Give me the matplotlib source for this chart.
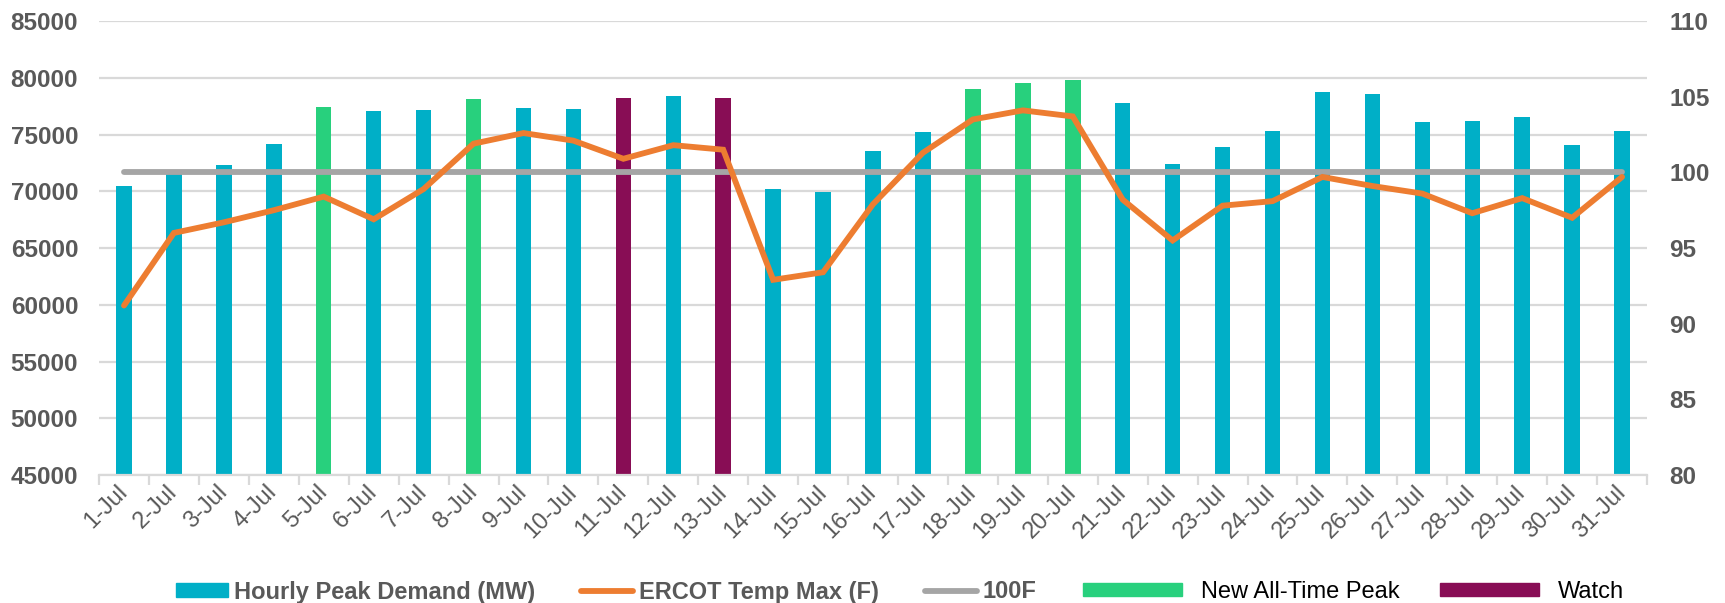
import numpy as np
import matplotlib
matplotlib.use("Agg")
import matplotlib.pyplot as plt
import matplotlib.patches as mpatches
from matplotlib.lines import Line2D

plt.rcParams["font.family"] = ["Liberation Sans", "DejaVu Sans"]

days = [f"{d}-Jul" for d in range(1, 32)]

# hourly peak demand (MW)
demand = [70450, 71600, 72300, 74150, 77450, 77050, 77150, 78150, 77300, 77250,
          78250, 78400, 78250, 70200, 69950, 73550, 75250, 79000, 79550, 79800,
          77750, 72400, 73900, 75300, 78750, 78550, 76150, 76200, 76550, 74050,
          75300]

# ERCOT max temperature (F)
temp_max = [91.2, 96.0, 96.7, 97.5, 98.4, 96.9, 98.9, 101.9, 102.6, 102.1,
            100.9, 101.8, 101.5, 92.9, 93.4, 97.9, 101.3, 103.5, 104.1, 103.7,
            98.2, 95.5, 97.8, 98.1, 99.7, 99.1, 98.6, 97.3, 98.3, 97.0,
            99.7]

ref_temp = [100] * len(days)

# bar category: 0 normal, 1 new all-time peak, 2 watch
status = [0, 0, 0, 0, 1, 0, 0, 1, 0, 0,
          2, 0, 2, 0, 0, 0, 0, 1, 1, 1,
          0, 0, 0, 0, 0, 0, 0, 0, 0, 0,
          0]

TEAL = "#00AFC7"
GREEN = "#28D07D"
PURPLE = "#880D55"
ORANGE = "#ED7D31"
GRAY = "#A5A5A5"
GRID = "#D9D9D9"
TXT = "#595959"

fig = plt.figure(figsize=(17.25, 6.03), dpi=100)
ax = fig.add_axes([0.0574, 0.2123, 0.8974, 0.7527])
ax2 = ax.twinx()

x = np.arange(len(days))
colors = [[TEAL, GREEN, PURPLE][s] for s in status]
ax.bar(x, np.array(demand) - 45000, bottom=45000, width=0.31, color=colors, zorder=2)

ax.set_ylim(45000, 85000)
ax.set_yticks(range(45000, 85001, 5000))
ax.set_xlim(-0.5, len(days) - 0.5)
ax.grid(axis="y", color=GRID, linewidth=1.6, zorder=0)
ax.set_axisbelow(True)
for s in ["top", "left", "right"]:
    ax.spines[s].set_visible(False)
ax.spines["bottom"].set_color(GRID)
ax.spines["bottom"].set_linewidth(1.6)

ax.set_xticks(x)
ax.set_xticklabels(days, rotation=45, ha="right", va="center", rotation_mode="anchor",
                   fontsize=17, color=TXT)
ax.tick_params(axis="x", which="major", length=0, pad=10)
ax.set_xticks(np.arange(-0.5, len(days)), minor=True)
ax.tick_params(axis="x", which="minor", length=7, width=1.6, color=GRID)
ax.tick_params(axis="y", length=0, pad=15, labelsize=17.5, labelcolor=TXT)
for lab in ax.get_yticklabels():
    lab.set_fontweight("bold")

ax2.plot(x, ref_temp, color=GRAY, linewidth=4.2, solid_capstyle="round", zorder=3)
ax2.plot(x, temp_max, color=ORANGE, linewidth=4.2, solid_capstyle="round",
         solid_joinstyle="miter", zorder=4)
ax2.set_ylim(80, 110)
ax2.set_yticks(range(80, 111, 5))
ax2.tick_params(axis="y", length=0, pad=16, labelsize=17.5, labelcolor=TXT)
for lab in ax2.get_yticklabels():
    lab.set_fontweight("bold")
for s in ax2.spines.values():
    s.set_visible(False)

h1 = [mpatches.Patch(color=TEAL),
      Line2D([], [], color=ORANGE, linewidth=4.2, solid_capstyle="round"),
      Line2D([], [], color=GRAY, linewidth=4.2, solid_capstyle="round")]
leg1 = fig.legend(h1, ["Hourly Peak Demand (MW)", "ERCOT Temp Max (F)", "100F"],
                  loc="center left", bbox_to_anchor=(176 / 1725, 1 - 592 / 603),
                  ncol=3, frameon=False, borderpad=0, borderaxespad=0,
                  handlelength=2.2, handleheight=0.5, handletextpad=0.25,
                  columnspacing=1.95, prop={"size": 17, "weight": "bold"})
for t in leg1.get_texts():
    t.set_color(TXT)

h2 = [mpatches.Patch(color=GREEN), mpatches.Patch(color=PURPLE)]
leg2 = fig.legend(h2, ["New All-Time Peak", "Watch"],
                  loc="center left", bbox_to_anchor=(1083 / 1725, 1 - 592 / 603),
                  ncol=2, frameon=False, borderpad=0, borderaxespad=0,
                  handlelength=4.2, handleheight=0.5, handletextpad=0.8,
                  columnspacing=1.7, prop={"size": 17})
for t in leg2.get_texts():
    t.set_color("black")

fig.savefig("out.png", dpi=100)
